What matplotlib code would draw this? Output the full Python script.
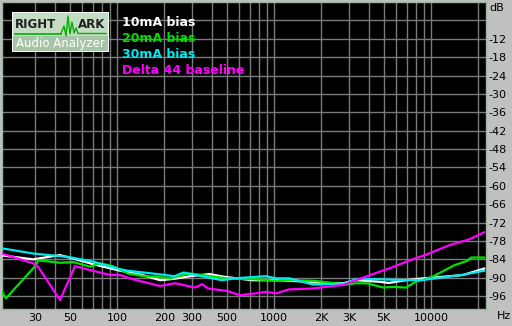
import matplotlib
matplotlib.use("Agg")
import matplotlib.pyplot as plt
from matplotlib.patches import Rectangle
import numpy as np

# ---------------- data ----------------
f_white = [18.5, 29.2, 43.3, 57.5, 74.4, 104.5, 145, 188, 226, 294, 386, 484, 720,
           1030, 1500, 2100, 2750, 3330, 4660, 5400, 6930, 8900, 11800, 16000, 21800]
db_white = [-82.7, -84.0, -82.6, -84.3, -85.9, -87.7, -89.1, -90.8, -90.4, -89.5, -88.8, -89.7, -90.8,
            -90.8, -91.2, -91.8, -91.8, -90.8, -91.3, -91.7, -90.8, -90.2, -89.7, -89.1, -87.0]

f_green = [18.5, 19.6, 30.5, 31.4, 43.3, 52.9, 67.3, 78.0, 94.0, 117, 149, 180, 218, 290, 400, 502, 768,
           1030, 1250, 1770, 2380, 2880, 3330, 3900, 4960, 5760, 6930, 8000, 10000, 11700, 14100, 17000,
           18000, 21800]
db_green = [-94.6, -96.7, -85.9, -84.3, -85.1, -84.9, -86.4, -85.3, -86.2, -88.6, -89.5, -89.7, -90.2,
            -88.6, -89.5, -90.2, -90.5,
            -91.0, -90.8, -91.0, -91.7, -92.2, -91.8, -91.8, -93.2, -93.0, -93.2, -91.3, -89.9, -88.1,
            -85.9, -84.5, -83.4, -83.4]

f_cyan = [18.5, 29.2, 48.8, 71.3, 100, 117, 181, 232, 265, 347, 465, 560, 768,
          889, 1030, 1250, 1770, 2380, 2880, 3330, 4660, 6930, 9000, 11700, 15700, 21800]
db_cyan = [-80.4, -82.1, -83.2, -84.8, -87.0, -87.7, -88.8, -89.5, -88.3, -89.5, -90.8, -90.2, -89.7,
           -89.5, -90.2, -90.2, -92.2, -92.1, -91.8, -90.4, -90.5, -90.8, -90.7, -89.9, -89.1, -87.7]

f_mag = [18.5, 29.2, 31.4, 43.3, 54.0, 67.3, 90.2, 104.5, 126.4, 187.9, 234, 314, 348, 380, 502, 607,
         768, 889, 1030, 1247, 1771, 2376, 2750, 3327, 4665, 5400, 6930, 9710, 13030, 17470, 21780]
db_mag = [-82.1, -85.3, -86.4, -97.3, -86.2, -87.5, -89.1, -89.1, -90.5, -92.7, -91.8, -93.2, -92.1,
          -93.5, -94.3, -95.7, -95.1, -94.6, -95.1, -93.8, -93.5, -92.7, -92.4, -90.8, -88.1, -87.0,
          -84.8, -82.1, -79.4, -77.5, -75.2]

series_names = ["10mA bias", "20mA bias", "30mA bias", "Delta 44 baseline"]
series_colors = ["#ffffff", "#00e000", "#00e8f0", "#ff00ff"]

x_tick_vals = [30, 50, 100, 200, 300, 500, 1000, 2000, 3000, 5000, 10000]
x_tick_labels = ["30", "50", "100", "200", "300", "500", "1000", "2K", "3K", "5K", "10000"]
x_grid_vals = [30, 40, 50, 60, 70, 80, 90, 100, 200, 300, 400, 500, 600, 700, 800, 900,
               1000, 2000, 3000, 4000, 5000, 6000, 7000, 8000, 9000, 10000, 20000]
y_tick_vals = [-12, -18, -24, -30, -36, -42, -48, -54, -60, -66, -72, -78, -84, -90, -96]
y_grid_vals = [-6] + y_tick_vals

# ---------------- figure ----------------
W, H = 512, 326
bg = "#c0c0c0"
fig = plt.figure(figsize=(W / 100, H / 100), dpi=100, facecolor=bg)
ax = fig.add_axes([2 / W, 17 / H, 484 / W, 307 / H], facecolor="black")
ax.set_xscale("log")
ax.set_xlim(18.5, 22400)
ax.set_ylim(-100.2, 0)

for v in x_grid_vals:
    ax.axvline(v, color="#7a7a7a", lw=1.0, zorder=1)
for v in y_grid_vals:
    ax.axhline(v, color="#7a7a7a", lw=1.0, zorder=1)

for (fx, dy), c in zip([(f_white, db_white), (f_green, db_green), (f_cyan, db_cyan), (f_mag, db_mag)],
                       series_colors):
    ax.plot(fx, dy, color=c, lw=1.6, zorder=3, solid_joinstyle="round")

ax.xaxis.set_minor_locator(matplotlib.ticker.NullLocator())
ax.set_xticks(x_tick_vals)
ax.set_xticklabels(x_tick_labels)
ax.tick_params(axis="x", length=0, pad=3, labelsize=8, colors="black")
ax.yaxis.tick_right()
ax.set_yticks(y_tick_vals)
ax.set_yticklabels([str(v) for v in y_tick_vals])
ax.tick_params(axis="y", length=0, pad=2, labelsize=8, colors="black")
for s in ax.spines.values():
    s.set_color("#9cb89c")
    s.set_linewidth(1.0)

fig.text(489 / W, 1 - 8 / H, "dB", fontsize=8, va="center", ha="left")
fig.text(497 / W, 1 - 316 / H, "Hz", fontsize=8, va="center", ha="left")

# legend texts
for i, (name, c) in enumerate(zip(series_names, series_colors)):
    yc = [22.5, 38.5, 54.5, 70.5][i]
    fig.text(122 / W, 1 - yc / H, name, color=c, fontsize=9, fontweight="bold",
             va="center", ha="left")

# logo
lax = fig.add_axes([12 / W, 1 - 52 / H, 97 / W, 40 / H])
lax.set_xlim(0, 97)
lax.set_ylim(40, 0)
lax.axis("off")
lax.add_patch(Rectangle((0, 0), 97, 40, facecolor="#c4dcc4", edgecolor="white", lw=1.2))
lax.add_patch(Rectangle((1, 24), 95, 15, facecolor="#a8c4a8", edgecolor="none"))
lax.plot([3, 49], [21.5, 21.5], color="#00b000", lw=1.2)
lax.plot([49, 52, 54, 56, 58, 60, 62, 64, 66, 94],
         [21.5, 14, 24, 4, 22, 10, 21, 16, 21.5, 21.5], color="#00b000", lw=1.0)
lax.text(3, 13, "RIGHT", fontsize=8.5, fontweight="bold", color="#202020", va="center", ha="left")
lax.text(66, 13, "ARK", fontsize=8.5, fontweight="bold", color="#202020", va="center", ha="left")
lax.text(48.5, 31.5, "Audio Analyzer", fontsize=8.5, color="white", va="center", ha="center")

fig.savefig("out.png", dpi=100, facecolor=bg)
